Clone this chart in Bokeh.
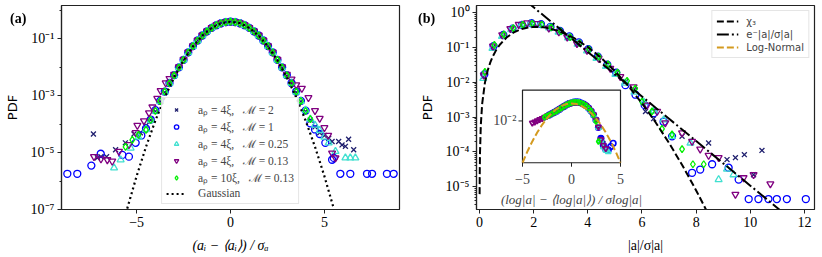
import math
from bokeh.plotting import figure
from bokeh.layouts import row
from bokeh.models import (Range1d, FixedTicker, CustomJSTickFormatter, Legend,
                          LegendItem, Label, Div)
from bokeh.embed import file_html
from bokeh.resources import INLINE

# ------------------------------------------------------------------ data ----
# Panel (a): PDF of acceleration components
GRID_A = [-4.5, -4.25, -4.0, -3.75, -3.5, -3.25, -3.0, -2.75, -2.5, -2.25, -2.0,
          -1.75, -1.5, -1.25, -1.0, -0.75, -0.5, -0.25, 0.0, 0.25, 0.5, 0.75, 1.0,
          1.25, 1.5, 1.75, 2.0, 2.25, 2.5, 2.75, 3.0, 3.25, 3.5, 3.75, 4.0, 4.25, 4.5]

A_NAVY_L_X = [-7.3, -7.09, -6.9, -6.6, -6.12, -5.6, -5.14, -4.8]
A_NAVY_L_Y = [4.5e-5, 6.6e-6, 7.2e-6, 7.2e-6, 1.26e-5, 2.2e-5, 4.5e-5, 5e-5]
A_NAVY_C_Y = [9e-5, 1.4e-4, 2.8e-4, 6.2e-4, 1.3e-3, 2.6e-3, 5.0e-3, 9.6e-3, 0.0178,
              0.0325, 0.054, 0.087, 0.131, 0.185, 0.245, 0.305, 0.356, 0.392, 0.405,
              0.392, 0.356, 0.305, 0.245, 0.185, 0.131, 0.087, 0.054, 0.0325, 0.0178,
              9.6e-3, 5.0e-3, 2.6e-3, 1.3e-3, 6.2e-4, 2.8e-4, 1.4e-4, 8e-5]
A_NAVY_R_X = [4.75, 5.0, 5.23, 5.41, 5.76, 5.94, 6.12, 6.29, 6.56]
A_NAVY_R_Y = [5e-5, 4e-5, 3.2e-5, 2.45e-5, 2.45e-5, 1.86e-5, 1.66e-5, 2.95e-5, 1.26e-5]

A_BLUE_L_X = [-8.69, -8.16, -7.41, -6.91, -5.76, -5.41, -5.05, -4.75]
A_BLUE_L_Y = [1.8e-6, 1.8e-6, 3.5e-6, 9.1e-6, 8.3e-6, 7.2e-6, 2.2e-5, 4e-5]
A_BLUE_C_Y = [7e-5, 1.45e-4, 3.1e-4, 6.6e-4, 1.4e-3, 2.8e-3, 5.3e-3, 0.0099, 0.0182,
              0.0332, 0.0553, 0.0874, 0.1305, 0.1835, 0.2425, 0.3005, 0.3525, 0.388,
              0.399, 0.388, 0.3525, 0.3005, 0.2425, 0.1835, 0.1305, 0.0874, 0.0553,
              0.0332, 0.0182, 0.0099, 5.3e-3, 2.8e-3, 1.4e-3, 6.6e-4, 3.0e-4, 1.07e-4,
              6.5e-5]
A_BLUE_R_X = [4.75, 5.05, 5.41, 5.5, 5.85, 6.38, 7.27, 7.54, 8.33, 8.69]
A_BLUE_R_Y = [4.5e-5, 2.2e-5, 5.6e-6, 6.5e-6, 1.8e-6, 1.8e-6, 1.8e-6, 1.8e-6, 1.8e-6,
              1.8e-6]

A_CYAN_L_X = [-6.2, -5.85, -5.32, -4.9]
A_CYAN_L_Y = [2.9e-6, 5.6e-6, 1.45e-5, 3.5e-5]
A_CYAN_C_Y = [6.5e-5, 1.35e-4, 2.9e-4, 6.3e-4, 1.35e-3, 2.7e-3, 5.1e-3, 0.0097, 0.0179,
              0.0328, 0.0548, 0.0868, 0.1298, 0.1828, 0.2418, 0.2995, 0.3515, 0.3875,
              0.398, 0.3875, 0.3515, 0.2995, 0.2418, 0.1828, 0.1298, 0.0868, 0.0548,
              0.0328, 0.0179, 0.0097, 5.1e-3, 2.75e-3, 1.35e-3, 6.4e-4, 3.1e-4, 1.5e-4,
              9.3e-5]
A_CYAN_R_X = [4.75, 5.0, 5.23, 5.59, 6.12, 6.38, 6.65]
A_CYAN_R_Y = [6e-5, 3.5e-5, 2.2e-5, 1.1e-5, 6.5e-6, 6.5e-6, 6.5e-6]

A_PURP_L_X = [-7.27, -6.9, -6.56, -6.3, -5.94, -5.41, -5.05, -4.96, -4.61, -4.34,
              -4.16, -3.9, -3.72, -3.45, -3.25]
A_PURP_L_Y = [7.2e-6, 6e-6, 5.6e-6, 5e-6, 1.1e-5, 1.9e-5, 5e-5, 9e-5, 1.3e-4, 2.5e-4,
              4e-4, 8e-4, 1.5e-3, 2.8e-3, 4.0e-3]
A_PURP_C_Y = [5.6e-3, 0.0103, 0.0188, 0.034, 0.0565, 0.089, 0.133, 0.187, 0.247,
              0.306, 0.358, 0.394, 0.41, 0.394, 0.358, 0.306, 0.247, 0.187, 0.133,
              0.089, 0.0565, 0.034, 0.0188, 0.0103, 5.6e-3]
A_PURP_R_X = [3.25, 3.5, 3.8, 4.15, 4.5, 4.75, 5.0, 5.2, 5.41, 5.59]
A_PURP_R_Y = [3.8e-3, 2.4e-3, 1.8e-3, 8.5e-4, 3e-4, 1.6e-4, 7.5e-5, 4e-5, 9.6e-6, 6.5e-6]

A_GREEN_L_X = [-5.59, -5.23, -4.9]
A_GREEN_L_Y = [1.6e-5, 2.8e-5, 4.2e-5]
A_GREEN_C_Y = [6.3e-5, 1.4e-4, 2.9e-4, 6.4e-4, 1.38e-3, 2.7e-3, 5.2e-3, 0.0098, 0.018,
               0.033, 0.055, 0.087, 0.13, 0.183, 0.242, 0.30, 0.352, 0.388, 0.40,
               0.388, 0.352, 0.30, 0.242, 0.183, 0.13, 0.087, 0.055, 0.033, 0.018,
               0.0098, 5.2e-3, 2.7e-3, 1.38e-3, 6.4e-4, 2.9e-4, 1.5e-4]

GAUSS_X = [-5.5, -5.0, -4.5, -4.0, -3.5, -3.0, -2.5, -2.0, -1.5, -1.0, -0.5, 0.0,
           0.5, 1.0, 1.5, 2.0, 2.5, 3.0, 3.5, 4.0, 4.5, 5.0, 5.5]
GAUSS_Y = [1.077e-7, 1.487e-6, 1.598e-5, 1.338e-4, 8.727e-4, 4.432e-3, 1.753e-2,
           5.399e-2, 0.1295, 0.2420, 0.3521, 0.3989, 0.3521, 0.2420, 0.1295,
           5.399e-2, 1.753e-2, 4.432e-3, 8.727e-4, 1.338e-4, 1.598e-5, 1.487e-6,
           1.077e-7]

LABELS = ["aₚ = 4ξ,   ℳ = 2", "aₚ = 4ξ,   ℳ = 1", "aₚ = 4ξ,   ℳ = 0.25",
          "aₚ = 4ξ,   ℳ = 0.13", "aₚ = 10ξ,   ℳ = 0.13"]
COLORS = ["#1f1f6e", "#0000ff", "#40e0d0", "#800080", "#00ee00"]
MARKERS = ["x", "circle", "triangle", "inverted_triangle", "diamond"]

# Panel (b): PDF of acceleration magnitude
B_NAVY_X = [0.15, 0.5, 0.85, 1.2, 1.55, 1.9, 2.25, 2.6, 2.95, 3.3, 3.65, 4.0, 4.35,
            4.7, 5.05, 5.4, 5.75, 6.13, 6.43, 7.48, 8.46, 9.14, 9.45, 9.78, 10.12,
            10.43]
B_NAVY_Y = [0.015, 0.105, 0.22, 0.34, 0.44, 0.49, 0.47, 0.39, 0.29, 0.2, 0.13, 0.086,
            0.053, 0.031, 0.018, 0.0105, 0.006, 0.00145, 0.0009, 2.8e-4, 1.8e-4,
            6e-5, 6.8e-5, 8.3e-5, 2.2e-5, 1.1e-4]
B_BLUE_X = [0.18, 0.52, 0.88, 1.22, 1.57, 1.92, 2.27, 2.62, 2.97, 3.32, 3.67, 4.02,
            4.37, 4.72, 5.05, 5.39, 5.76, 6.1, 6.43, 6.8, 7.11, 7.85, 8.15, 8.59, 9.2,
            9.57, 9.94, 10.3, 10.67, 10.98, 11.35, 12.05]
B_BLUE_Y = [0.017, 0.11, 0.23, 0.35, 0.45, 0.5, 0.47, 0.39, 0.3, 0.21, 0.14, 0.09,
            0.055, 0.032, 0.019, 0.0083, 0.0044, 0.0022, 0.0013, 7.4e-4, 2.8e-4,
            2.5e-5, 3.1e-5, 4.4e-5, 3.5e-5, 1.6e-5, 4.4e-6, 4.4e-6, 4.4e-6, 4.4e-6,
            4.4e-6, 4.4e-6]
B_CYAN_X = [0.14, 0.48, 0.83, 1.17, 1.52, 1.87, 2.22, 2.57, 2.92, 3.27, 3.62, 3.97,
            4.32, 4.67, 5.02, 5.37, 5.72, 6.07, 6.44, 6.8, 7.11, 7.79, 8.83, 9.14,
            9.38]
B_CYAN_Y = [0.013, 0.095, 0.21, 0.33, 0.43, 0.48, 0.45, 0.37, 0.28, 0.19, 0.125,
            0.08, 0.049, 0.029, 0.017, 0.0095, 0.0052, 0.0027, 0.0015, 8.3e-4,
            2.8e-4, 1.8e-4, 1.6e-5, 3.2e-5, 2.2e-5]
B_PURP_X = [0.16, 0.5, 0.84, 1.14, 1.45, 1.76, 2.13, 2.56, 2.93, 3.24, 3.6, 3.97,
            4.4, 4.83, 5.2, 5.69, 6.19, 6.56, 6.86, 7.48, 7.85, 8.15, 8.46, 8.83,
            9.45, 9.75, 10.12, 10.74]
B_PURP_Y = [0.016, 0.11, 0.23, 0.35, 0.46, 0.51, 0.49, 0.36, 0.28, 0.2, 0.13, 0.083,
            0.049, 0.025, 0.0145, 0.0074, 0.0022, 0.00145, 6.8e-4, 3.5e-4, 2e-4,
            1.2e-4, 7.9e-5, 6.8e-5, 6e-6, 1.8e-5, 2.2e-5, 1.2e-5]
B_GREEN_X = [0.2, 0.55, 0.9, 1.25, 1.6, 1.95, 2.3, 2.65, 3.0, 3.35, 3.7, 4.05, 4.4,
             4.75, 5.1, 5.45, 5.75, 6.0, 6.37, 6.74, 7.11, 7.48, 7.88, 8.28]
B_GREEN_Y = [0.02, 0.12, 0.24, 0.36, 0.45, 0.49, 0.46, 0.38, 0.29, 0.2, 0.135, 0.088,
             0.055, 0.033, 0.019, 0.011, 0.0066, 0.0028, 0.00145, 4.6e-4, 3.2e-4,
             1.2e-4, 4.4e-5, 4.4e-5]

CHI_X = [0.005, 0.01, 0.02, 0.05, 0.1, 0.2, 0.3, 0.4, 0.5, 0.625, 0.75, 1.0, 1.25,
         1.5, 1.75, 2.0, 2.25, 2.5, 3.0, 3.5, 4.0, 4.5, 5.0, 5.5, 6.0, 6.5, 7.0,
         7.5, 8.0, 8.5]
CHI_Y = [6.09e-6, 2.44e-5, 9.75e-5, 6.09e-4, 2.43e-3, 9.66e-3, 0.0215, 0.0376,
         0.0576, 0.0871, 0.1207, 0.1943, 0.2672, 0.3291, 0.3727, 0.3934, 0.3914,
         0.3691, 0.2849, 0.1857, 0.1037, 0.04998, 0.02101, 7.74e-3, 2.50e-3,
         7.13e-4, 1.797e-4, 3.99e-5, 7.78e-6, 1.36e-6]
EXP_X = [0, 1, 2, 3, 4, 5, 6, 7, 8, 9, 10, 11, 12]
EXP_Y = [27.5, 6.284, 1.436, 0.3281, 0.07497, 0.01713, 3.914e-3, 8.944e-4,
         2.044e-4, 4.670e-5, 1.067e-5, 2.438e-6, 5.571e-7]

# Inset: standardised log|a|
GRID_I = [-4.0, -3.75, -3.5, -3.25, -3.0, -2.75, -2.5, -2.25, -2.0, -1.75, -1.5,
          -1.25, -1.0, -0.75, -0.5, -0.25, 0.0, 0.25, 0.5, 0.75, 1.0, 1.25, 1.5,
          1.75, 2.0, 2.25, 2.5, 2.75, 3.0, 3.25, 3.5, 3.75, 4.0, 4.25]
I_NAVY_Y = [0.031, 0.04, 0.053, 0.069, 0.093, 0.127, 0.18, 0.245, 0.335, 0.425,
            0.515, 0.575, 0.595, 0.56, 0.48, 0.38, 0.275, 0.165, 0.088, 0.04, 0.014,
            3e-3, 3e-4, 1e-4]
I_BLUE_Y = [0.036, 0.047, 0.062, 0.083, 0.113, 0.16, 0.22, 0.3, 0.38, 0.46, 0.52,
            0.55, 0.52, 0.44, 0.35, 0.25, 0.15, 0.08, 0.036, 0.012, 2.5e-3, 2.5e-4,
            6e-5, 2.5e-5, 2.2e-5, 4.5e-5, 9e-5]
I_CYAN_Y = [0.027, 0.035, 0.045, 0.06, 0.08, 0.11, 0.155, 0.213, 0.29, 0.37, 0.445,
            0.495, 0.515, 0.485, 0.415, 0.33, 0.24, 0.145, 0.077, 0.035, 0.012,
            2.5e-3, 1.5e-4, 4e-5, 2e-5, 1.5e-5]
I_PURP_Y = [6.5e-3, 8.3e-3, 0.0106, 0.0135, 0.0172, 0.022, 0.028, 0.036, 0.047,
            0.062, 0.083, 0.113, 0.16, 0.22, 0.3, 0.38, 0.46, 0.51, 0.53, 0.5, 0.43,
            0.34, 0.25, 0.15, 0.08, 0.037, 0.013, 2.8e-3, 2e-4, 6e-5, 3e-5]
I_GREEN_Y = [0.022, 0.028, 0.036, 0.047, 0.062, 0.083, 0.113, 0.16, 0.22, 0.3, 0.38,
             0.46, 0.51, 0.53, 0.5, 0.43, 0.34, 0.25, 0.15, 0.08, 0.035, 0.009, 1.3e-4]

# ---------------------------------------------------------------- styling ----
SERIF = "Liberation Serif"
SANS = "DejaVu Sans"
INK = "#222222"

SUP_JS = """
const e = Math.round(Math.log10(tick));
const m = {'-':'⁻','0':'⁰','1':'¹','2':'²','3':'³','4':'⁴','5':'⁵','6':'⁶','7':'⁷','8':'⁸','9':'⁹'};
return '10' + String(e).split('').map(c => m[c]).join('');
"""
MINUS_JS = "return tick < 0 ? '−' + Math.abs(tick) : String(tick);"

H = 255
TOP = 5          # frame top (page px)
BOT = 210        # frame bottom (page px)
WA = 408         # width of panel (a)
WB = 412         # width of panel (b)


def style(p):
    p.outline_line_color = INK
    p.outline_line_width = 1.2
    p.outline_line_alpha = 1.0
    p.xgrid.visible = False
    p.ygrid.visible = False
    for ax in p.axis:
        ax.axis_line_color = INK
        ax.axis_line_width = 1.2
        ax.major_tick_out = 4
        ax.major_tick_in = 0
        ax.minor_tick_out = 2
        ax.minor_tick_in = 0
        ax.major_tick_line_color = INK
        ax.minor_tick_line_color = INK
        ax.major_label_text_font = SERIF
        ax.major_label_text_font_size = "14px"
        ax.major_label_text_color = "black"
        ax.major_label_standoff = 3
        ax.axis_label_standoff = 6
        ax.axis_label_text_font_size = "13px"
        ax.axis_label_text_color = "black"
    for ax in p.xaxis:
        ax.minor_tick_out = 0
        ax.formatter = CustomJSTickFormatter(code=MINUS_JS)
        ax.axis_label_text_font = SERIF
        ax.axis_label_text_font_size = "14px"
        ax.axis_label_text_font_style = "italic"
        ax.axis_label_standoff = 8
    for ax in p.yaxis:
        ax.formatter = CustomJSTickFormatter(code=SUP_JS)
        ax.axis_label = "PDF"
        ax.axis_label_standoff = 8
        ax.axis_label_text_font = SANS
        ax.axis_label_text_font_style = "normal"


# ---------------------------------------------------------------- panel a ----
pa = figure(width=WA, height=H, output_backend="svg", toolbar_location=None,
            y_axis_type="log", x_range=Range1d(-9, 9), y_range=Range1d(1e-7, 1.48),
            min_border_left=61, min_border_right=WA - 399, min_border_top=TOP,
            min_border_bottom=H - BOT)
style(pa)
pa.xaxis.ticker = FixedTicker(ticks=[-5, 0, 5])
pa.yaxis.ticker = FixedTicker(ticks=[1e-7, 1e-5, 1e-3, 1e-1],
                              minor_ticks=[1e-6, 1e-4, 1e-2, 1e0])
pa.xaxis.axis_label = "(aᵢ − ⟨aᵢ⟩) / σₐ"

a_series = [
    (A_NAVY_L_X + GRID_A + A_NAVY_R_X, A_NAVY_L_Y + A_NAVY_C_Y + A_NAVY_R_Y),
    (A_BLUE_L_X + GRID_A + A_BLUE_R_X, A_BLUE_L_Y + A_BLUE_C_Y + A_BLUE_R_Y),
    (A_CYAN_L_X + GRID_A + A_CYAN_R_X, A_CYAN_L_Y + A_CYAN_C_Y + A_CYAN_R_Y),
    (A_PURP_L_X + GRID_A[6:31] + A_PURP_R_X, A_PURP_L_Y + A_PURP_C_Y + A_PURP_R_Y),
    (A_GREEN_L_X + GRID_A[0:36], A_GREEN_L_Y + A_GREEN_C_Y),
]
items_a = []
for (xs, ys), col, mk, lab in zip(a_series, COLORS, MARKERS, LABELS):
    r = pa.scatter(xs, ys, marker=mk, size=7, line_color=col, fill_color=None,
                   line_width=1.3)
    items_a.append(LegendItem(label=lab, renderers=[r]))
rg = pa.line(GAUSS_X, GAUSS_Y, line_color="black", line_width=2.2, line_dash="2 3")
items_a.append(LegendItem(label="Gaussian", renderers=[rg]))

leg_a = Legend(items=items_a, location="bottom_center", label_text_font=SERIF,
               label_text_font_size="11.5px", glyph_width=20, glyph_height=11,
               label_height=11, spacing=2, padding=4, margin=5, label_standoff=12,
               border_line_color="#cccccc", background_fill_alpha=0.85)
pa.add_layout(leg_a)

# ---------------------------------------------------------------- panel b ----
pb = figure(width=WB, height=H, output_backend="svg", toolbar_location=None,
            y_axis_type="log", x_range=Range1d(-0.11, 12.37),
            y_range=Range1d(2.2e-6, 1.62),
            min_border_left=476 - WA, min_border_right=WA + WB - 814,
            min_border_top=TOP, min_border_bottom=H - BOT)
style(pb)
pb.xaxis.ticker = FixedTicker(ticks=[0, 2, 4, 6, 8, 10, 12])
b_major = [1e-5, 1e-4, 1e-3, 1e-2, 1e-1, 1e0]
b_minor = [k * 10.0 ** e for e in range(-6, 1) for k in range(2, 10)]
pb.yaxis.ticker = FixedTicker(ticks=b_major, minor_ticks=b_minor)
pb.xaxis.axis_label = "|a|/σ|a|"
pb.xaxis.axis_label_text_font_style = "normal"

b_series = [(B_NAVY_X, B_NAVY_Y), (B_BLUE_X, B_BLUE_Y), (B_CYAN_X, B_CYAN_Y),
            (B_PURP_X, B_PURP_Y), (B_GREEN_X, B_GREEN_Y)]
for (xs, ys), col, mk in zip(b_series, COLORS, MARKERS):
    pb.scatter(xs, ys, marker=mk, size=7, line_color=col, fill_color=None,
               line_width=1.3)
r_chi = pb.line(CHI_X, CHI_Y, line_color="black", line_width=2, line_dash="7 3")
r_exp = pb.line(EXP_X, EXP_Y, line_color="black", line_width=2,
                line_dash="12 3 2 3")

# inset placed inside the frame of panel b (page pixel geometry)
FR_L, FR_R, FR_T, FR_B = 476.0, 814.0, float(TOP), float(BOT)
IN_L, IN_R, IN_T, IN_B = 522.0, 620.0, 90.0, 163.0
IX0, IX1 = -5.0, 5.0
IY0, IY1 = 1.487e-6, 6.7
ux = (IX1 - IX0) / (IN_R - IN_L)
ly0, ly1 = math.log10(IY0), math.log10(IY1)
uy = (ly1 - ly0) / (IN_B - IN_T)
pb.extra_x_ranges = {"ix": Range1d(IX0 - (IN_L - FR_L) * ux, IX1 + (FR_R - IN_R) * ux)}
pb.extra_y_ranges = {"iy": Range1d(10 ** (ly0 - (FR_B - IN_B) * uy),
                                   10 ** (ly1 + (IN_T - FR_T) * uy))}
KW = dict(x_range_name="ix", y_range_name="iy")
pb.quad(left=[IX0], right=[IX1], bottom=[IY0], top=[IY1], fill_color="white",
        line_color=INK, line_width=1.2, **KW)
inset_series = [(GRID_I[6:30], I_NAVY_Y), (GRID_I[7:34], I_BLUE_Y),
                (GRID_I[6:32], I_CYAN_Y), (GRID_I[0:31], I_PURP_Y),
                (GRID_I[5:28], I_GREEN_Y)]
for (xs, ys), col, mk in zip(inset_series, COLORS, MARKERS):
    pb.scatter(xs, ys, marker=mk, size=5.5, line_color=col, fill_color=None,
               line_width=1.7, **KW)
LN_X = GAUSS_X[1:22]
LN_Y = GAUSS_Y[1:22]
r_ln = pb.line(LN_X, LN_Y, line_color="#d49a1f", line_width=2, line_dash="7 3", **KW)

# inset axes decorations
tick_x = [IX0, 0.0, IX1]
pb.segment(x0=tick_x, x1=tick_x, y0=[IY0] * 3, y1=[IY0 / 10 ** (4 * uy)] * 3,
           line_color=INK, line_width=1, **KW)
pb.segment(x0=[IX0], x1=[IX0 - 4 * ux], y0=[1e-2], y1=[1e-2], line_color=INK,
           line_width=1, **KW)
for tx, tl in zip(tick_x, ["−5", "0", "5"]):
    pb.add_layout(Label(x=tx, y=IY0, y_offset=-16, text=tl, text_font=SERIF,
                        text_font_size="14px", text_align="center",
                        text_baseline="middle", **KW))
pb.add_layout(Label(x=IX0, y=1e-2, x_offset=-6, text="10⁻²", text_font=SERIF,
                    text_font_size="14px", text_align="right",
                    text_baseline="middle", **KW))
pb.add_layout(Label(x=0.0, y=IY0, y_offset=-37,
                    text="(log|a| − ⟨log|a|⟩) / σlog|a|", text_font=SERIF,
                    text_font_style="italic", text_font_size="13px",
                    text_align="center", text_baseline="middle", **KW))

leg_b = Legend(items=[LegendItem(label="χ₃", renderers=[r_chi]),
                      LegendItem(label="e⁻|a|/σ|a|", renderers=[r_exp]),
                      LegendItem(label="Log-Normal", renderers=[r_ln])],
               location="top_right", label_text_font=SANS,
               label_text_font_size="10px", glyph_width=22, glyph_height=12,
               label_height=12, spacing=1, padding=4, margin=5, label_standoff=8,
               border_line_color="#cccccc", background_fill_alpha=0.85)
pb.add_layout(leg_b)

# panel tags "(a)" and "(b)" at the top-left of each panel
TAG = {"position": "fixed", "font-family": "Liberation Serif", "font-weight": "bold",
       "font-size": "14px", "line-height": "16px", "color": "black"}
tag_a = Div(text="(a)", styles=dict(TAG, left="5px", top="6px"))
tag_b = Div(text="(b)", styles=dict(TAG, left="413px", top="6px"))

layout = row(pa, pb, tag_a, tag_b)
open("out.html", "w").write(file_html(layout, INLINE))
